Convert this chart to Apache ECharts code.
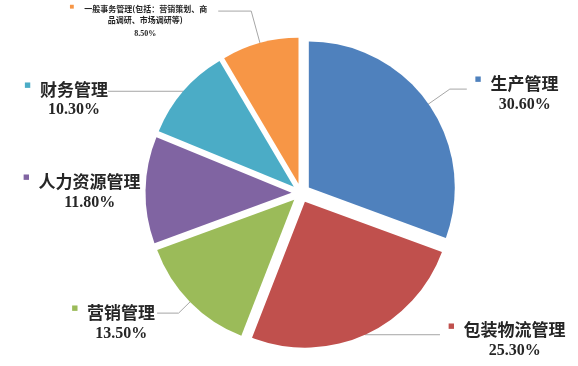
<!DOCTYPE html>
<html>
<head>
<meta charset="utf-8">
<script src="https://cdn.jsdelivr.net/npm/echarts@6/dist/echarts.min.js"></script>
<style>html,body{margin:0;padding:0;background:#fff;}#c{width:578px;height:366px;}</style>
</head>
<body>
<div id="c"></div>
<script>
var categories = ['生产管理', '包装物流管理', '营销管理', '人力资源管理', '财务管理', '一般事务管理(包括：营销策划、商品调研、市场调研等)'];
var values = [30.6, 25.3, 13.5, 11.8, 10.3, 8.5];
var colors = ['#4F81BD', '#C0504D', '#9BBB59', '#8064A2', '#4BACC6', '#F79646'];

// per-slice label styling: leader length, horizontal length, gap, top padding
var labelStyle = [
  {len: 35.5, len2: 17, dist: 8, pad: 10, line: true},
  {len: 9.5, len2: 75, dist: 8, pad: 11, line: true},
  {len: 25.5, len2: 21.5, dist: 2, pad: 20, line: true},
  {len: 9.5, len2: 3, dist: 2, pad: 4, line: false},
  {len: 9.5, len2: 75.5, dist: 0, pad: 17, line: true},
  {len: 42.6, len2: 33, dist: 11, pad: 24, line: true}
];

var CENTER = [301, 193], RADIUS = 146;
var chart = echarts.init(document.getElementById('c'), null, {renderer: 'canvas'});

var nameFont = 'Noto Sans CJK SC';
var pctFont = 'Liberation Serif';
var txtColor = '#262626';

function richFor(i) {
  return {
    m: {fontFamily: 'DejaVu Sans', fontSize: 7, color: colors[i], padding: [0, 0, 8, 0]},
    n: {fontFamily: nameFont, fontWeight: 'bold', fontSize: 17, lineHeight: 21, color: txtColor, padding: [0, 0, 0, 9]},
    p: {fontFamily: pctFont, fontWeight: 'bold', fontSize: 16, lineHeight: 21, color: txtColor, align: 'center', padding: [0, 0, 0, 16]},
    sm: {fontFamily: 'DejaVu Sans', fontSize: 5, color: colors[i], padding: [0, 0, 5, 0]},
    s1: {fontFamily: nameFont, fontWeight: 'bold', fontSize: 8, lineHeight: 11, color: txtColor, padding: [0, 0, 0, 10]},
    s2: {fontFamily: nameFont, fontWeight: 'bold', fontSize: 8, lineHeight: 11, color: txtColor, align: 'center', padding: [0, 0, 0, 14]},
    sp: {fontFamily: pctFont, fontWeight: 'bold', fontSize: 8, lineHeight: 17, color: txtColor, align: 'center', padding: [0, 0, 0, 14]}
  };
}

var pieData = categories.map(function (name, i) {
  return {name: name, value: values[i], selected: true, itemStyle: {color: colors[i]}};
});

var labelData = categories.map(function (name, i) {
  var s = labelStyle[i];
  return {
    name: name,
    value: values[i],
    itemStyle: {color: 'rgba(0,0,0,0)'},
    label: {rich: richFor(i), padding: [s.pad, 0, 0, 0], distanceToLabelLine: s.dist},
    labelLine: {show: s.line, length: s.len, length2: s.len2}
  };
});

chart.setOption({
  animation: false,
  series: [{
    type: 'pie',
    z: 3,
    silent: true,
    center: CENTER,
    radius: RADIUS,
    startAngle: 90,
    clockwise: true,
    selectedMode: 'multiple',
    selectedOffset: 9.5,
    label: {show: false},
    labelLine: {show: false},
    emphasis: {disabled: true},
    data: pieData
  }, {
    type: 'pie',
    z: 1,
    silent: true,
    center: CENTER,
    radius: RADIUS,
    startAngle: 90,
    clockwise: true,
    avoidLabelOverlap: false,
    emphasis: {disabled: true},
    label: {
      show: true,
      position: 'outside',
      formatter: function (p) {
        var pct = p.value.toFixed(2) + '%';
        if (p.dataIndex === 5) {
          var l1 = p.name.slice(0, 16), l2 = p.name.slice(16);
          return '{sm|■}{s1|' + l1 + '}\n{s2|' + l2 + '}\n{sp|' + pct + '}';
        }
        return '{m|■}{n|' + p.name + '}\n{p|' + pct + '}';
      }
    },
    labelLine: {show: true, smooth: false, minTurnAngle: 0, maxSurfaceAngle: 180, lineStyle: {color: '#a6a6a6', width: 1}},
    data: labelData
  }]
});
</script>
</body>
</html>
